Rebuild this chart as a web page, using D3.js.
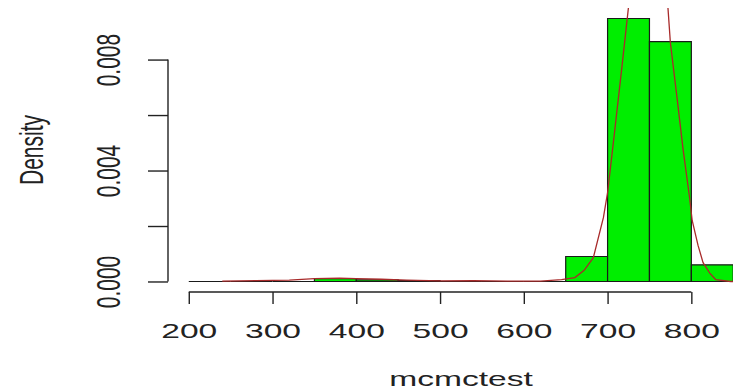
<!DOCTYPE html>
<html>
<head>
<meta charset="UTF-8">
<title>hist mcmctest</title>
<script src="https://d3js.org/d3.v7.min.js"></script>
<style>
  body { margin: 0; background: #fff; }
  text { font-family: "Liberation Sans", Arial, sans-serif; fill: #222; }
</style>
</head>
<body>
<div class="canvas"></div>
<script>
  // histogram bins (breaks) and their densities
  const breaks = [200, 250, 300, 350, 400, 450, 500, 550, 600, 650, 700, 750, 800, 850];
  const binDensity = [0, 0, 0, 0.0001, 0.00006, 0.00003, 0, 0, 0, 0.0009, 0.00948, 0.00865, 0.0006];

  // density curve (x, density)
  const densX = [240, 280, 320, 350, 380, 400, 430, 460, 500, 540, 580, 620, 645, 661, 672, 683, 695, 700,
                 708, 717, 725, 733, 741, 749, 757, 765, 772, 775, 783, 790, 798, 801, 808, 814, 822, 829, 847, 860];
  const densY = [0.00001, 0.00003, 0.00005, 0.0001, 0.00012, 0.0001, 0.00008, 0.00005, 0.00002, 0.00003, 0.00001, 0.00001,
                 0.00007, 0.00014, 0.0004, 0.00086, 0.0023, 0.0032, 0.0053, 0.0077, 0.0099, 0.0118, 0.0131, 0.0136,
                 0.0131, 0.0117, 0.0099, 0.0086, 0.0066, 0.0048, 0.003, 0.0022, 0.0013, 0.00068, 0.0003, 0.00007, 0, 0];

  const xTicks = [200, 300, 400, 500, 600, 700, 800];
  const yTicks = [0, 0.002, 0.004, 0.006, 0.008];
  const yTickLabels = ['0.000', '', '0.004', '', '0.008'];

  const width = 733, height = 391;
  const sx = 1.6; // picture is stretched horizontally
  const fs = '21px';
  const [pl, pr, pt, pb] = [167, 755, 8, 292];

  const svg = d3.select('.canvas').append('svg')
    .attr('width', width).attr('height', height);
  svg.append('rect').attr('width', width).attr('height', height).attr('fill', '#fff');

  // R style: data range padded by 4%
  const [b0, b1] = d3.extent(breaks);
  const padX = (b1 - b0) * 0.04;
  const x = d3.scaleLinear().domain([b0 - padX, b1 + padX]).range([pl, pr]);
  const ymax = d3.max(binDensity);
  const y = d3.scaleLinear().domain([-0.04 * ymax, 1.04 * ymax]).range([pb, pt]);

  svg.append('clipPath').attr('id', 'plot')
    .append('rect').attr('x', pl).attr('y', pt)
    .attr('width', pr - pl).attr('height', pb - pt);

  const plot = svg.append('g').attr('clip-path', 'url(#plot)');

  // bars as paths so empty bins still show as a flat outline
  const bins = binDensity.map((d, i) => ({ x0: breaks[i], x1: breaks[i + 1], d }));
  plot.selectAll('path.bar').data(bins).enter()
    .append('path')
    .attr('class', 'bar')
    .attr('d', b => `M${x(b.x0)},${y(0)}V${y(b.d)}H${x(b.x1)}V${y(0)}Z`)
    .attr('fill', '#00ee00')
    .attr('stroke', '#1a1a1a')
    .attr('stroke-width', 1.2);

  const line = d3.line()
    .x((d, i) => x(densX[i]))
    .y(d => y(d));
  plot.append('path')
    .attr('d', line(densY))
    .attr('fill', 'none')
    .attr('stroke', '#a82a2a')
    .attr('stroke-width', 1.3);

  // x axis
  const xAxisG = svg.append('g').attr('transform', `translate(0, ${pb})`);
  xAxisG.call(d3.axisBottom(x).tickValues(xTicks).tickSize(12).tickFormat(d3.format('d')));
  xAxisG.select('.domain').remove();
  xAxisG.append('line')
    .attr('x1', x(xTicks[0])).attr('x2', x(xTicks[xTicks.length - 1]))
    .attr('stroke', '#222');
  xAxisG.selectAll('line').attr('stroke', '#222').attr('stroke-width', 1.4);
  xAxisG.selectAll('text')
    .attr('y', 0).attr('dy', null)
    .attr('transform', `translate(0, 46) scale(${sx}, 1)`)
    .style('font-size', fs);

  // y axis
  const yAxisG = svg.append('g').attr('transform', `translate(${pl + 1}, 0)`);
  yAxisG.call(d3.axisLeft(y).tickValues(yTicks).tickSize(20).tickFormat((d, i) => yTickLabels[i]));
  yAxisG.select('.domain').remove();
  yAxisG.append('line')
    .attr('y1', y(yTicks[0])).attr('y2', y(yTicks[yTicks.length - 1]))
    .attr('stroke', '#222');
  yAxisG.selectAll('line').attr('stroke', '#222').attr('stroke-width', 1.4);
  yAxisG.selectAll('text')
    .attr('x', 0).attr('dy', null)
    .attr('text-anchor', 'middle')
    .attr('transform', `translate(-48, 0) scale(${sx}, 1) rotate(-90)`)
    .style('font-size', fs);

  // axis titles
  svg.append('text')
    .attr('transform', `translate(${(pl + pr) / 2}, 386) scale(${sx}, 1)`)
    .attr('text-anchor', 'middle')
    .style('font-size', fs)
    .text('mcmctest');

  svg.append('text')
    .attr('transform', `translate(43, ${(pt + pb) / 2}) scale(${sx}, 1) rotate(-90)`)
    .attr('text-anchor', 'middle')
    .style('font-size', fs)
    .text('Density');
</script>
</body>
</html>
